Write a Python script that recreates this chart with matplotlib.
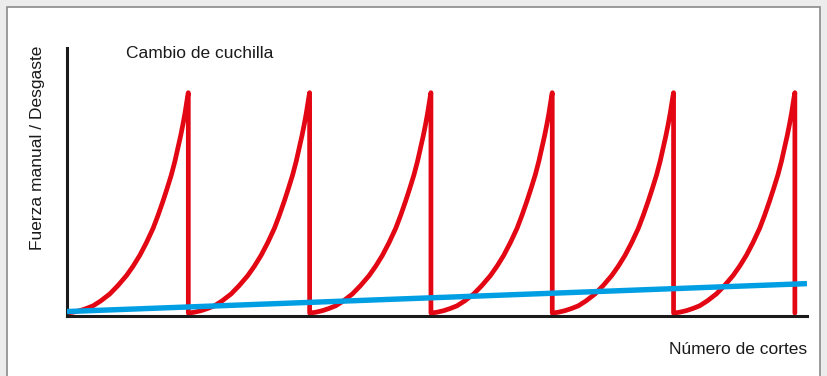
import matplotlib
matplotlib.use("Agg")
import matplotlib.pyplot as plt
from matplotlib.patches import Rectangle
import numpy as np

# ---- data ----
# one wear cycle: fraction of cycle vs. relative force (cycles are identical)
cycle_frac = [0.0, 0.05, 0.105, 0.16, 0.215, 0.28, 0.353, 0.42, 0.49, 0.545, 0.60,
              0.655, 0.71, 0.75, 0.79, 0.825, 0.86, 0.89, 0.915, 0.937, 0.956,
              0.972, 0.984, 0.993, 1.0]
cycle_force = [0.0, 0.004, 0.011, 0.021, 0.033, 0.056, 0.087, 0.125, 0.17, 0.213, 0.262,
               0.32, 0.385, 0.443, 0.506, 0.565, 0.627, 0.69, 0.75, 0.805, 0.857,
               0.905, 0.948, 0.978, 1.0]
cycle_starts = [0, 1, 2, 3, 4, 5]
peak_value = 10.0
base_value = 0.13
blue_x = [0.0, 6.1]
blue_y = [0.2, 1.45]

red = "#e30613"
blue = "#009fe3"

W, H = 827, 376
fig = plt.figure(figsize=(W / 100, H / 100), dpi=100)
fig.patch.set_facecolor("#ececec")
fig.patches.append(Rectangle((7 / W, -0.05), 813 / W, 1.05 - 7 / H,
                             transform=fig.transFigure, facecolor="white",
                             edgecolor="#8a8a8a", linewidth=1.2, zorder=-5))

ax = fig.add_axes([67 / W, (H - 316) / H, 740 / W, 268 / H])
ax.set_zorder(2)
ax.set_facecolor("none")
ax.set_xlim(0, 6.1)
ax.set_ylim(0, 12)

xs, ys = [], []
for s in cycle_starts:
    for f, v in zip(cycle_frac, cycle_force):
        xs.append(s + f)
        ys.append(base_value + v * (peak_value - base_value))
    xs.append(s + 1.0)
    ys.append(base_value)
ax.plot(xs, ys, color=red, lw=3.4, solid_joinstyle="round", solid_capstyle="round", zorder=2)
ax.plot(blue_x, blue_y, color=blue, lw=3.9, solid_capstyle="butt", zorder=3)

for side in ["top", "right"]:
    ax.spines[side].set_visible(False)
for side in ["left", "bottom"]:
    ax.spines[side].set_color("#1a1a1a")
    ax.spines[side].set_linewidth(2.2)
ax.set_xticks([])
ax.set_yticks([])

fam = ["Liberation Sans Narrow", "Liberation Sans", "DejaVu Sans"]
fig.text(126 / W, 1 - 53 / H, "Cambio de cuchilla", family=fam, fontsize=12.5,
         ha="left", va="center", color="#1a1a1a", zorder=3)
fig.text(807 / W, 1 - 349 / H, "Número de cortes", family=fam, fontsize=12.5,
         ha="right", va="center", color="#1a1a1a", zorder=3)
fig.text(38 / W, 1 - 148 / H, "Fuerza manual / Desgaste", family=fam, fontsize=12.5,
         ha="center", va="center", rotation=90, color="#1a1a1a", zorder=3)

fig.savefig("out.png", dpi=100, facecolor=fig.get_facecolor())
